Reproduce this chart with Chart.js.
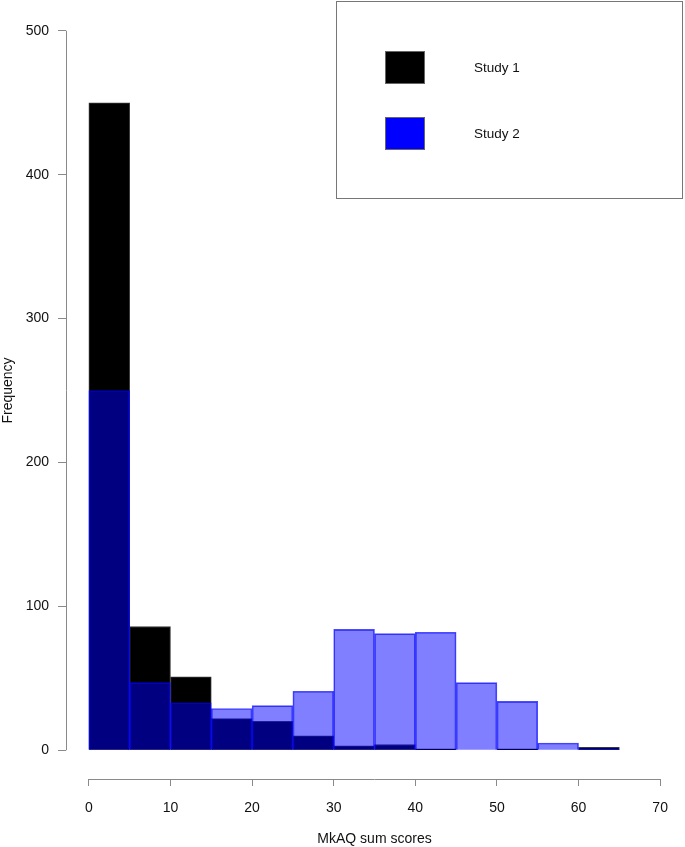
<!DOCTYPE html>
<html lang="en">
  <head>
    <meta charset="UTF-8" />
    <title>MkAQ sum scores</title>
    <script src="https://cdn.jsdelivr.net/npm/chart.js"></script>
    <style>
      body {
        margin: 0;
        background: #fff;
      }

      .chart-container {
        width: 685px;
        height: 847px;
      }
    </style>
  </head>
  <body>
    <div class="chart-container">
      <canvas id="hist_chart"></canvas>
    </div>

    <script>
      // bin centres (width 5, from 0 to 65)
      const binCenters = [2.5, 7.5, 12.5, 17.5, 22.5, 27.5, 32.5, 37.5, 42.5, 47.5, 52.5, 57.5, 62.5];
      const study1Counts = [450, 86, 51, 22, 20, 10, 3, 4, 1, 0, 1, 0, 2];
      const study2Counts = [250, 47, 33, 29, 31, 41, 84, 81, 82, 47, 34, 5, 1];
      const xTickValues = [0, 10, 20, 30, 40, 50, 60, 70];
      const yTickValues = [0, 100, 200, 300, 400, 500];
      const seriesNames = ["Study 1", "Study 2"];

      const axisGrey = "#8a8a8a";
      const fontFamily = "'Liberation Sans', Arial, sans-serif";

      function toPoints(counts) {
        return counts.map((c, i) => ({ x: binCenters[i], y: c }));
      }

      // R-style axis lines: only from first to last tick
      const axisLines = {
        id: "axisLines",
        afterDraw(chart) {
          const ctx = chart.ctx;
          const x = chart.scales.x;
          const y = chart.scales.y;
          ctx.save();
          ctx.strokeStyle = axisGrey;
          ctx.lineWidth = 1;
          ctx.beginPath();
          const xl = x.getPixelForValue(xTickValues[0]);
          const xr = x.getPixelForValue(xTickValues[xTickValues.length - 1]);
          const xb = Math.round(chart.chartArea.bottom) + 0.5;
          ctx.moveTo(xl, xb);
          ctx.lineTo(xr, xb);
          const yl = Math.round(chart.chartArea.left) + 0.5;
          ctx.moveTo(yl, y.getPixelForValue(yTickValues[0]));
          ctx.lineTo(yl, y.getPixelForValue(yTickValues[yTickValues.length - 1]));
          ctx.stroke();
          ctx.restore();
        },
      };

      // boxed legend in the top right corner
      const boxLegend = {
        id: "boxLegend",
        afterDraw(chart) {
          const ctx = chart.ctx;
          const area = chart.chartArea;
          const right = area.right;
          const top = area.top - 1;
          const left = right - 347;
          const bottom = top + 198;
          ctx.save();
          ctx.fillStyle = "#fff";
          ctx.fillRect(left, top, right - left, bottom - top);
          ctx.strokeStyle = "#777";
          ctx.lineWidth = 1;
          ctx.strokeRect(left + 0.5, top + 0.5, right - left - 1, bottom - top - 1);

          const fills = ["#000000", "#0000ff"];
          ctx.font = "13.5px " + fontFamily;
          ctx.textBaseline = "middle";
          seriesNames.forEach((name, i) => {
            const sy = top + 50 + i * 66;
            ctx.fillStyle = fills[i];
            ctx.fillRect(left + 49, sy, 40, 33);
            ctx.strokeStyle = "#666";
            ctx.strokeRect(left + 49.5, sy + 0.5, 39, 32);
            ctx.fillStyle = "#111";
            ctx.fillText(name, left + 138, sy + 17);
          });
          ctx.restore();
        },
      };

      function noEdgePadding(scale) {
        scale.paddingTop = 0;
        scale.paddingBottom = 0;
        scale.paddingLeft = 0;
        scale.paddingRight = 0;
      }

      new Chart(document.getElementById("hist_chart").getContext("2d"), {
        type: "bar",
        data: {
          datasets: [
            {
              label: seriesNames[0],
              data: toPoints(study1Counts),
              backgroundColor: "#000000",
              borderColor: "#3a3a3a",
              borderWidth: 1,
              order: 2,
            },
            {
              label: seriesNames[1],
              data: toPoints(study2Counts),
              backgroundColor: "rgba(0, 0, 255, 0.5)",
              borderColor: "rgba(0, 0, 255, 0.7)",
              borderWidth: 1,
              order: 1,
            },
          ],
        },
        options: {
          responsive: true,
          maintainAspectRatio: false,
          animation: false,
          grouped: false,
          barPercentage: 1,
          categoryPercentage: 1,
          layout: {
            padding: { top: 2, right: 2, left: 0, bottom: 0 },
          },
          plugins: {
            legend: { display: false },
            tooltip: { enabled: false },
          },
          scales: {
            x: {
              type: "linear",
              offset: false,
              min: -2.8,
              max: 72.8,
              afterBuildTicks: (scale) => {
                scale.ticks = xTickValues.map((v) => ({ value: v }));
              },
              afterFit: (scale) => {
                scale.height = 68;
                noEdgePadding(scale);
              },
              border: { display: false },
              grid: {
                offset: false,
                drawOnChartArea: false,
                drawTicks: true,
                tickLength: 7,
                color: axisGrey,
              },
              ticks: {
                padding: 13.5,
                color: "#111",
                font: { family: fontFamily, size: 14 },
                maxRotation: 0,
              },
              title: {
                display: true,
                text: "MkAQ sum scores",
                color: "#111",
                font: { family: fontFamily, size: 14 },
                padding: { top: 0, bottom: -1 },
              },
            },
            y: {
              type: "linear",
              min: -20,
              max: 520,
              afterBuildTicks: (scale) => {
                scale.ticks = yTickValues.map((v) => ({ value: v }));
              },
              afterFit: (scale) => {
                scale.width = 66;
                noEdgePadding(scale);
              },
              border: { display: false },
              grid: {
                drawOnChartArea: false,
                drawTicks: true,
                tickLength: 8,
                color: axisGrey,
              },
              ticks: {
                padding: 9,
                color: "#111",
                font: { family: fontFamily, size: 14 },
              },
              title: {
                display: true,
                text: "Frequency",
                color: "#111",
                font: { family: fontFamily, size: 14 },
                padding: { top: 0, bottom: 0 },
              },
            },
          },
        },
        plugins: [axisLines, boxLegend],
      });
    </script>
  </body>
</html>
